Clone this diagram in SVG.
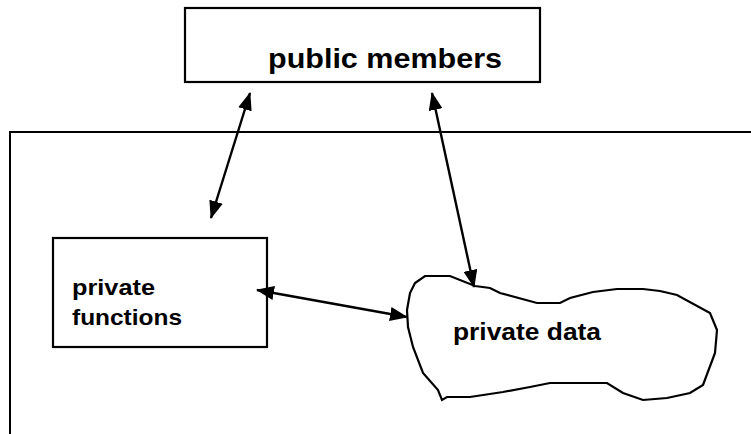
<svg xmlns="http://www.w3.org/2000/svg" width="751" height="434" viewBox="0 0 751 434">
<style>
.box{fill:#fff;stroke:#000;stroke-width:2.2}
.frame{fill:none;stroke:#000;stroke-width:2}
.lbl{font-family:"Liberation Sans",Arial,sans-serif;font-weight:bold;fill:#000}
.conn{stroke:#000;stroke-width:2.4;fill:none;marker-start:url(#ah);marker-end:url(#ah)}
</style>
<defs>
<marker id="ah" markerUnits="userSpaceOnUse" markerWidth="18" markerHeight="14" viewBox="0 0 18 14" refX="17" refY="7" orient="auto-start-reverse">
<path d="M0,0 L18,7 L0,14 Z" fill="#000"/>
</marker>
</defs>
<rect width="751" height="434" fill="#fff"/>
<g id="frame">
<path class="frame" d="M10,434 L10,132 L751,132"/>
</g>
<g id="public">
<rect class="box" x="185" y="8" width="355" height="74"/>
<text class="lbl" x="268" y="68" font-size="28" textLength="234" lengthAdjust="spacingAndGlyphs">public members</text>
</g>
<g id="functions">
<rect class="box" x="53" y="238" width="214" height="109"/>
<text class="lbl" x="72" y="295" font-size="22" textLength="83" lengthAdjust="spacingAndGlyphs">private</text>
<text class="lbl" x="72" y="325" font-size="22" textLength="110" lengthAdjust="spacingAndGlyphs">functions</text>
</g>
<g id="data">
<path class="box" d="M425,276 L450,276 L475,286 L490,288 L500,293 L537,303 L560,303 L570,298 L593,292 L617,289 L643,289 L660,291 L677,295 L710,313 L717,330 L715,353 L703,385 L690,393 L667,398 L643,400 L623,393 L607,383 L550,383 L530,387 L503,392 L470,397 L447,397 L442,400 L438,390 L423,373 L413,347 L408,327 L407,310 L410,293 L415,283 Z"/>
<text class="lbl" x="453" y="340" font-size="23" textLength="148" lengthAdjust="spacingAndGlyphs">private data</text>
</g>
<g id="connectors">
<line class="conn" x1="250" y1="93" x2="211" y2="218"/>
<line class="conn" x1="432" y1="93" x2="474" y2="287"/>
<line class="conn" x1="257" y1="290" x2="407" y2="317"/>
</g>
</svg>
